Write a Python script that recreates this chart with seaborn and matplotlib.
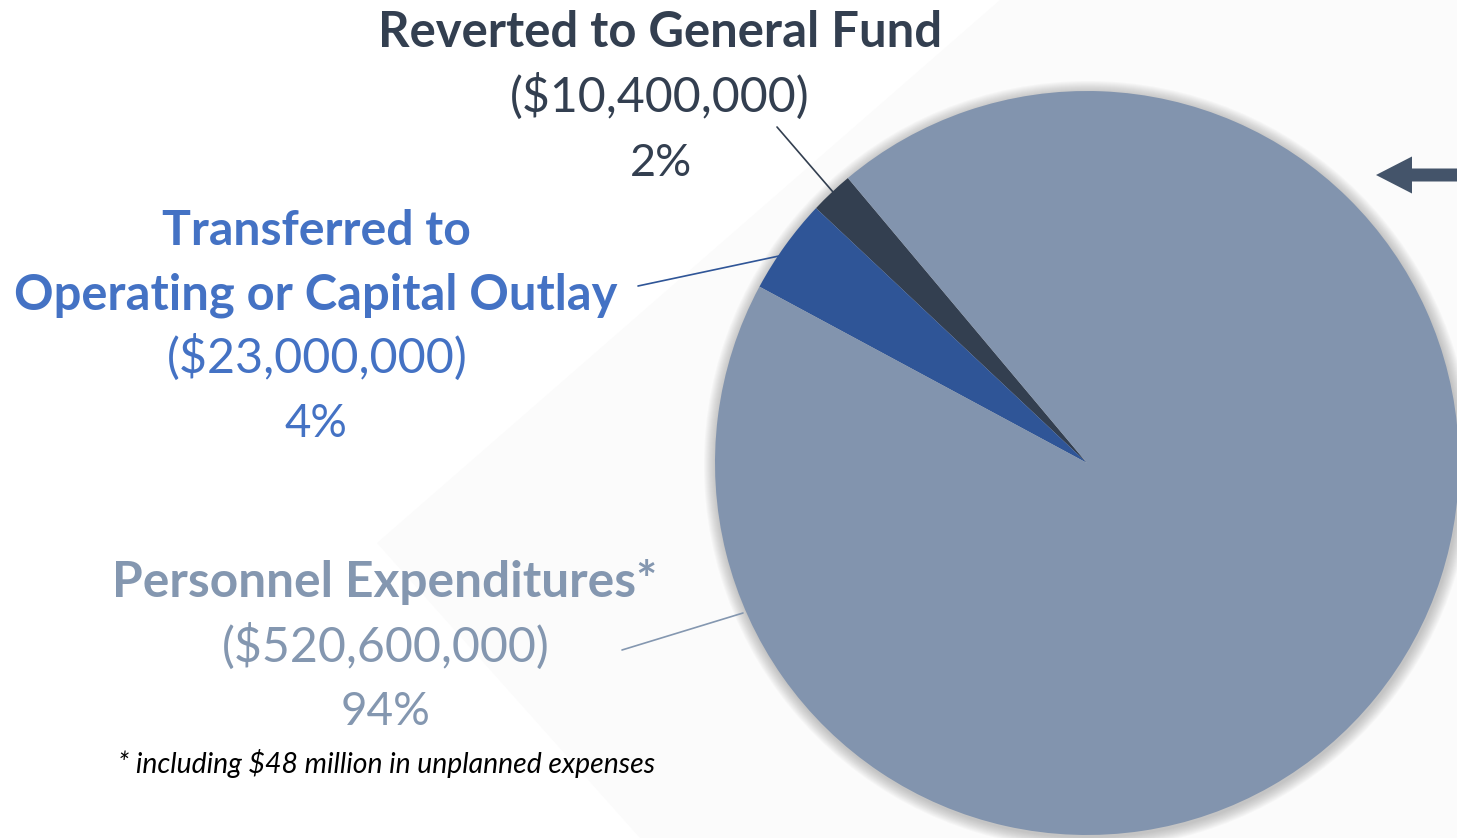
import matplotlib
matplotlib.use("Agg")
import matplotlib.pyplot as plt
from matplotlib.patches import Circle, Polygon, FancyArrow
import seaborn as sns

# Year-end disposition of the personnel appropriation
categories = ["Reverted to General Fund",
              "Transferred to\nOperating or Capital Outlay",
              "Personnel Expenditures*"]
amounts = [10_400_000, 23_000_000, 520_600_000]
amount_labels = ["($10,400,000)", "($23,000,000)", "($520,600,000)"]
pct_labels = ["2%", "4%", "94%"]
footnote = "* including $48 million in unplanned expenses"

slice_colors = ["#333F50", "#2F5597", "#8294AE"]
text_colors = ["#333F50", "#4472C4", "#8497B0"]

sns.set_theme(style="white")
plt.rcParams["font.family"] = ["Lato", "DejaVu Sans"]

W, H = 1457, 838
fig = plt.figure(figsize=(W / 100, H / 100), dpi=100)
ax = fig.add_axes([0, 0, 1, 1])


def Y(y):
    return H - y


# faint backdrop band
ax.add_patch(Polygon([(377, Y(543)), (1000, Y(0)), (W, Y(0)), (W, Y(H)), (640, Y(H))],
                     closed=True, facecolor="#fbfbfb", edgecolor="none", zorder=0))

cx, cy, r = 1087, Y(463), 372

# soft shadow ring around the pie
for k in range(12, 0, -1):
    ax.add_patch(Circle((cx + 1, cy - 2), r + k, facecolor="#7a7a7a",
                        edgecolor="none", alpha=0.04, zorder=1))

ax.pie(amounts, colors=slice_colors, startangle=130, counterclock=True,
       center=(cx, cy), radius=r, frame=True,
       wedgeprops=dict(linewidth=0, zorder=2))

ax.set_xlim(0, W)
ax.set_ylim(0, H)
ax.set_aspect("auto")
ax.axis("off")

# leader lines
leaders = [((777, 127), (833, 192)), ((638, 286), (779, 256)), ((622, 650), (743, 613))]
for (p0, p1), col in zip(leaders, [slice_colors[0], slice_colors[1], text_colors[2]]):
    ax.plot([p0[0], p1[0]], [Y(p0[1]), Y(p1[1])], color=col, lw=1.2, zorder=3)

renderer = fig.canvas.get_renderer()


def fit_text(s, xc, baseline, width, **kw):
    t = ax.text(xc, Y(baseline), s, ha="center", va="baseline", fontsize=20, **kw)
    w = t.get_window_extent(renderer=renderer).width
    t.set_fontsize(20 * width / w)
    return t


# Reverted block
fit_text("Reverted to General Fund", 660, 47, 564, fontweight="bold", color=text_colors[0])
fit_text(amount_labels[0], 660, 112, 299, color=text_colors[0])
fit_text(pct_labels[0], 661, 176, 62, color=text_colors[0])

# Transferred block
fit_text("Transferred to", 316, 245, 309, fontweight="bold", color=text_colors[1])
fit_text("Operating or Capital Outlay", 316, 309, 603, fontweight="bold", color=text_colors[1])
fit_text(amount_labels[1], 317, 373, 300, color=text_colors[1])
fit_text(pct_labels[1], 316, 437, 63, color=text_colors[1])

# Personnel block
fit_text("Personnel Expenditures*", 385, 597, 546, fontweight="bold", color=text_colors[2])
fit_text(amount_labels[2], 386, 662, 328, color=text_colors[2])
fit_text(pct_labels[2], 386, 725, 90, color=text_colors[2])

fit_text(footnote, 387, 773, 538, style="italic", color="black")

# pointer arrow at the right edge
ax.add_patch(FancyArrow(W, Y(175), -(W - 1376), 0, width=13, head_width=37,
                        head_length=36, length_includes_head=True,
                        facecolor="#44546A", edgecolor="none", zorder=4))

fig.savefig("out.png", dpi=100)
